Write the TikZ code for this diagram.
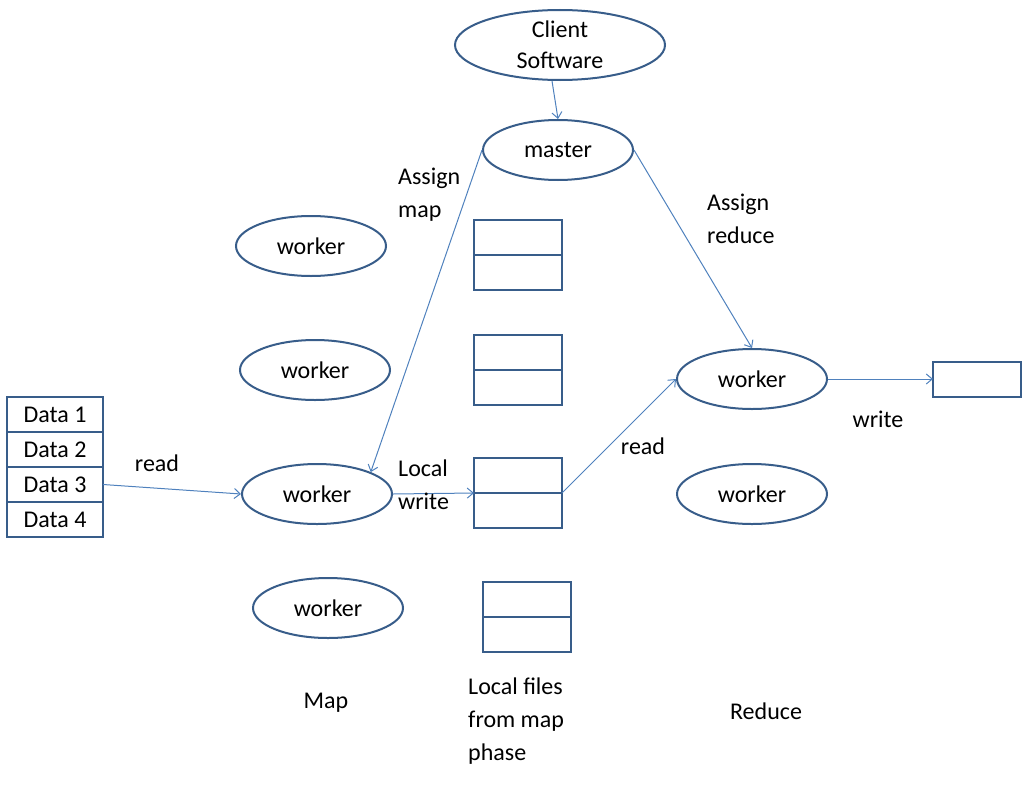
\documentclass[tikz,border=0pt]{standalone}
\usepackage{fontspec}
\setmainfont{Carlito}
\usetikzlibrary{arrows.meta,shapes.geometric}
\definecolor{bd}{HTML}{385D8A}
\definecolor{ar}{HTML}{4F81BD}
\begin{document}
\begin{tikzpicture}[x=1pt,y=-1pt,
  every node/.style={font=\fontsize{24}{33}\selectfont},
  ell/.style={draw=bd,line width=2pt,ellipse,minimum width=150pt,minimum height=60pt,inner sep=0pt},
  bx/.style={draw=bd,line width=2pt,minimum width=88pt,minimum height=35pt,inner sep=0pt,outer sep=0pt},
  arr/.style={draw=ar,line width=1pt,-{Straight Barb[length=6pt,width=10pt]}},
  lbl/.style={align=left,inner sep=0pt}]
\useasboundingbox (0,0) rectangle (1024,784);
\node[ell,minimum width=210pt,minimum height=70pt,align=center,font=\fontsize{24}{31}\selectfont] (client) at (560,45) {Client\\Software};
\node[ell] (master) at (558,150) {master};
\node[ell] (w1) at (311,246) {worker};
\node[ell] (w2) at (315,370) {worker};
\node[ell] (w3) at (317,494) {worker};
\node[ell] (w4) at (328,608) {worker};
\node[ell] (r1) at (752,379) {worker};
\node[ell] (r2) at (752,494) {worker};
\foreach \n/\x/\y in {f1/518/220,f2/518/335,f3/518/458,f4/527/582}{
  \node[bx,anchor=north] (\n a) at (\x,\y) {};
  \node[bx,anchor=north] (\n b) at (\n a.south) {};
}
\node[bx,minimum width=96pt,anchor=north] (d1) at (55,397) {Data 1};
\node[bx,minimum width=96pt,anchor=north] (d2) at (d1.south) {Data 2};
\node[bx,minimum width=96pt,anchor=north] (d3) at (d2.south) {Data 3};
\node[bx,minimum width=96pt,anchor=north] (d4) at (d3.south) {Data 4};
\node[bx] (out) at (977,379) {};
\draw[arr] ([xshift=-8pt]client.south) -- (master.north);
\draw[arr] (master.west) -- (w3.north east);
\draw[arr] (master.east) -- (r1.north);
\draw[arr] (d3.east) -- (w3.west);
\draw[arr] (w3.east) -- (f3a.south west);
\draw[arr] (f3a.south east) -- (r1.west);
\draw[arr] (r1.east) -- (out.west);
\node[lbl,anchor=north west] (l1) at (398,168) {Assign\\map};
\node[lbl,anchor=north west] (l2) at (707,194) {Assign\\reduce};
\node[lbl] (l3) at (157,463) {read};
\node[lbl,anchor=north west] (l4) at (398,460) {Local\\write};
\node[lbl] (l5) at (643,446) {read};
\node[lbl] (l6) at (878,419) {write};
\node[lbl] (l7) at (326,703) {Map};
\node[lbl,anchor=north west] (l8) at (468,678) {Local files\\from map\\phase};
\node[lbl] (l9) at (766,711) {Reduce};
\end{tikzpicture}
\end{document}
